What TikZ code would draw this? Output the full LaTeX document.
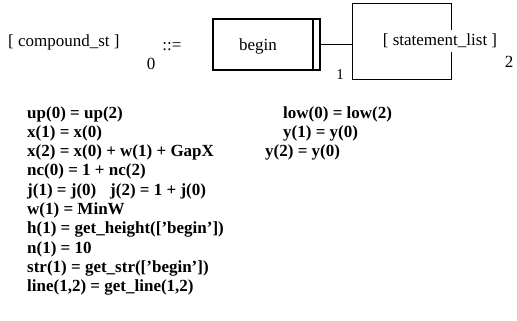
\documentclass[tikz,border=0pt]{standalone}
\usepackage{fontspec}
\setmainfont{Liberation Serif}
\begin{document}
\begin{tikzpicture}[x=1pt,y=-1pt,
  txt/.style={inner sep=0pt, font=\fontsize{17}{19}\selectfont},
  eq/.style={inner sep=0pt, anchor=base west, font=\fontsize{17}{19}\selectfont\bfseries},
  frame/.style={line width=1.6pt},
  thin/.style={line width=1.1pt}]
\useasboundingbox (0,0) rectangle (517,321);
% header
\node[txt, anchor=base west] (lhs) at (8,47) {[ compound\_st ]};
\node[txt] (zero) at (151,64) {0};
\node[txt] (def) at (172,47) {::=};
% begin box
\node[frame, draw, minimum width=107pt, minimum height=51pt, inner sep=0pt] (bbox) at (266.5,44.5) {};
\node[txt] (begintxt) at (258,46) {begin};
\draw[frame] ([xshift=-8pt]bbox.north east) -- ([xshift=-8pt]bbox.south east);
\node[txt, font=\fontsize{15}{17}\selectfont] (one) at (340,75) {1};
% statement list bracket
\node[minimum width=98pt, minimum height=75pt, inner sep=0pt] (sbox) at (402,41.5) {};
\draw[thin] (bbox.east) -- (bbox.east -| sbox.west);
\draw[thin] ([yshift=-26pt]sbox.north east) -- (sbox.north east) -- (sbox.north west)
  -- (sbox.south west) -- (sbox.south east) -- ([yshift=27pt]sbox.south east);
\node[txt] (stmt) at (440,41) {[ statement\_list ]};
\node[txt] (two) at (509,62) {2};
% equations left
\node[eq] (e1) at (27,118) {up(0) = up(2)};
\node[eq] (e2) at (27,137.3) {x(1) = x(0)};
\node[eq] (e3) at (27,156.6) {x(2) = x(0) + w(1) + GapX};
\node[eq] (e4) at (27,175.9) {nc(0) = 1 + nc(2)};
\node[eq] (e5) at (27,195.2) {j(1) = j(0)};
\node[eq] (e5b) at (110,195.2) {j(2) = 1 + j(0)};
\node[eq] (e6) at (27,214.5) {w(1) = MinW};
\node[eq] (e7) at (27,233.8) {h(1) = get\_height([’begin’])};
\node[eq] (e8) at (27,253.1) {n(1) = 10};
\node[eq] (e9) at (27,272.4) {str(1) = get\_str([’begin’])};
\node[eq] (e10) at (27,291.7) {line(1,2) = get\_line(1,2)};
% equations right
\node[eq] (r1) at (283,118) {low(0) = low(2)};
\node[eq] (r2) at (283,137.3) {y(1) = y(0)};
\node[eq] (r3) at (265,156.6) {y(2) = y(0)};
\end{tikzpicture}
\end{document}
